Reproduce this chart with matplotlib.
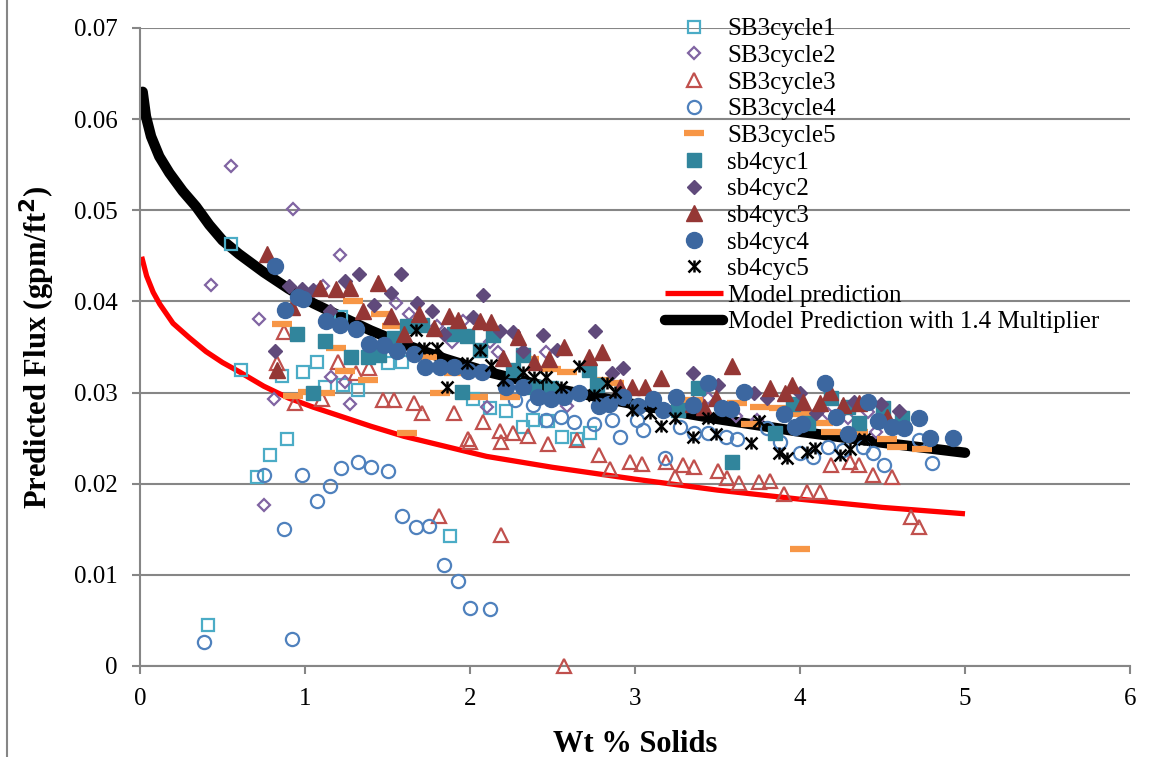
import matplotlib
matplotlib.use('Agg')
import matplotlib.pyplot as plt
from matplotlib.legend_handler import HandlerTuple
from matplotlib.lines import Line2D

plt.rcParams['font.family'] = ['Liberation Serif', 'DejaVu Serif']

# ---- data (wt % solids, predicted flux gpm/ft2) ----
sb3c1_x = [0.41, 0.55, 0.61, 0.71, 0.79, 0.86, 0.89, 0.99, 1.07, 1.12, 1.22, 1.23, 1.32, 1.50, 1.59,
           1.88, 2.02, 2.12, 2.22, 2.32, 2.38, 2.47, 2.56, 2.65, 2.73]
sb3c1_y = [0.0045, 0.0463, 0.0325, 0.0207, 0.0231, 0.0318, 0.0249, 0.0323, 0.0334, 0.0306, 0.0383, 0.0308,
           0.0303, 0.0332, 0.0334, 0.0143, 0.0293, 0.0283, 0.0280, 0.0262, 0.0270, 0.0269, 0.0251, 0.0249, 0.0256]

sb3c2_x = [0.55, 0.43, 0.93, 0.75, 0.72, 1.21, 1.11, 0.81, 1.16, 1.24, 1.27, 1.55, 1.63, 1.80, 1.89, 1.96,
           2.10, 2.12, 2.17, 2.46, 2.59, 3.44, 3.61, 3.74, 4.17, 4.29, 4.41, 4.46]
sb3c2_y = [0.0549, 0.0418, 0.0501, 0.0177, 0.0381, 0.0451, 0.0417, 0.0293, 0.0317, 0.0312, 0.0288, 0.0398,
           0.0386, 0.0373, 0.0356, 0.0379, 0.0284, 0.0355, 0.0344, 0.0344, 0.0285, 0.0294, 0.0274, 0.0270,
           0.0276, 0.0272, 0.0279, 0.0257]

sb3c3_x = [0.87, 0.83, 1.20, 1.39, 1.31, 1.10, 0.94, 1.47, 1.54, 1.66, 1.71, 1.90, 1.99, 2.08, 2.18, 2.26,
           2.35, 2.19, 2.47, 2.65, 2.00, 2.78, 2.85, 2.97, 3.04, 3.19, 3.24, 3.29, 3.36, 3.50, 3.56, 3.63,
           3.75, 3.82, 3.90, 4.04, 4.12, 4.19, 4.30, 4.36, 4.44, 4.56, 4.67, 4.72, 1.81, 2.19, 2.57]
sb3c3_y = [0.0366, 0.0332, 0.0334, 0.0327, 0.0321, 0.0293, 0.0289, 0.0292, 0.0292, 0.0289, 0.0278, 0.0278,
           0.0249, 0.0268, 0.0258, 0.0256, 0.0252, 0.0246, 0.0244, 0.0248, 0.0246, 0.0231, 0.0216, 0.0224,
           0.0222, 0.0224, 0.0207, 0.0220, 0.0218, 0.0214, 0.0206, 0.0201, 0.0202, 0.0203, 0.0189, 0.0191,
           0.0191, 0.0221, 0.0224, 0.0221, 0.0210, 0.0207, 0.0164, 0.0153, 0.0165, 0.0144, 0.0]

sb3c4_x = [0.39, 0.92, 0.75, 0.87, 0.98, 1.07, 1.15, 1.22, 1.32, 1.40, 1.50, 1.59, 1.67, 1.75, 1.84, 1.93,
           2.00, 2.12, 2.27, 2.38, 2.46, 2.55, 2.63, 2.75, 2.86, 2.91, 3.01, 3.05, 3.18, 3.27, 3.36, 3.44,
           3.55, 3.62, 3.80, 3.88, 4.00, 4.08, 4.17, 4.26, 4.38, 4.44, 4.51, 4.72, 4.80]
sb3c4_y = [0.0026, 0.0030, 0.0210, 0.0150, 0.0210, 0.0181, 0.0198, 0.0217, 0.0224, 0.0218, 0.0214, 0.0165,
           0.0153, 0.0154, 0.0111, 0.0093, 0.0064, 0.0063, 0.0292, 0.0286, 0.0270, 0.0273, 0.0268, 0.0265,
           0.0270, 0.0251, 0.0270, 0.0259, 0.0228, 0.0262, 0.0256, 0.0256, 0.0251, 0.0249, 0.0261, 0.0246,
           0.0234, 0.0229, 0.0240, 0.0237, 0.0240, 0.0234, 0.0221, 0.0248, 0.0223]

sb3c5_x = [0.86, 1.29, 1.46, 1.53, 1.19, 1.24, 1.38, 0.93, 1.02, 1.12, 1.62, 1.74, 1.82, 1.90, 2.05, 2.24,
           2.36, 2.49, 2.59, 2.80, 2.87, 3.35, 3.62, 3.76, 3.87, 3.70, 4.01, 4.14, 4.19, 4.35, 4.53, 4.59,
           4.74, 4.00]
sb3c5_y = [0.0375, 0.0401, 0.0386, 0.0373, 0.0349, 0.0324, 0.0314, 0.0296, 0.0301, 0.0300, 0.0256, 0.0339,
           0.0300, 0.0322, 0.0295, 0.0295, 0.0337, 0.0326, 0.0323, 0.0314, 0.0311, 0.0292, 0.0289, 0.0284,
           0.0283, 0.0265, 0.0277, 0.0267, 0.0257, 0.0257, 0.0249, 0.0240, 0.0238, 0.0128]

sb4c1_x = [0.95, 1.12, 1.28, 1.38, 1.45, 1.05, 1.54, 1.62, 1.71, 1.90, 1.98, 1.95, 2.06, 2.14, 2.26, 2.32,
           2.39, 2.49, 2.72, 2.77, 3.26, 3.38, 3.59, 3.85, 3.96, 4.05, 4.19, 4.29, 4.36, 4.50, 4.62]
sb4c1_y = [0.0364, 0.0357, 0.0339, 0.0339, 0.0341, 0.0299, 0.0360, 0.0373, 0.0374, 0.0364, 0.0362, 0.0301,
           0.0347, 0.0363, 0.0325, 0.0341, 0.0306, 0.0305, 0.0325, 0.0308, 0.0281, 0.0305, 0.0224, 0.0256,
           0.0287, 0.0267, 0.0294, 0.0284, 0.0267, 0.0283, 0.0272]

sb4c2_x = [0.82, 0.90, 0.98, 1.05, 1.24, 1.33, 1.58, 1.52, 1.42, 1.15, 1.68, 1.77, 1.84, 2.02, 2.08, 2.18,
           2.26, 2.44, 2.32, 2.53, 2.76, 2.86, 2.93, 3.35, 3.50, 3.72, 3.80, 4.00, 4.16, 4.10, 4.33, 4.49, 4.60]
sb4c2_y = [0.0346, 0.0417, 0.0414, 0.0412, 0.0422, 0.0430, 0.0430, 0.0409, 0.0396, 0.0390, 0.0398, 0.0390,
           0.0364, 0.0383, 0.0407, 0.0368, 0.0366, 0.0363, 0.0346, 0.0347, 0.0368, 0.0322, 0.0327, 0.0321,
           0.0308, 0.0299, 0.0294, 0.0300, 0.0312, 0.0278, 0.0290, 0.0288, 0.0280]

sb4c3_x = [0.77, 0.83, 0.92, 1.09, 1.19, 1.27, 1.44, 1.35, 1.52, 1.69, 1.60, 1.78, 1.87, 1.93, 2.06, 2.13,
           2.29, 2.20, 2.39, 2.48, 2.57, 2.72, 2.80, 2.91, 2.98, 3.06, 3.16, 3.35, 3.42, 3.49, 3.59, 3.82,
           3.91, 3.95, 4.02, 4.12, 4.18, 4.26, 4.36, 4.53]
sb4c3_y = [0.0452, 0.0325, 0.0394, 0.0415, 0.0414, 0.0415, 0.0420, 0.0389, 0.0384, 0.0386, 0.0364, 0.0371,
           0.0384, 0.0380, 0.0379, 0.0377, 0.0361, 0.0338, 0.0333, 0.0337, 0.0350, 0.0339, 0.0344, 0.0306,
           0.0306, 0.0306, 0.0316, 0.0287, 0.0284, 0.0294, 0.0329, 0.0305, 0.0299, 0.0308, 0.0290, 0.0289,
           0.0301, 0.0286, 0.0289, 0.0273]

sb4c4_x = [0.82, 0.88, 0.96, 0.99, 1.13, 1.21, 1.31, 1.39, 1.48, 1.56, 1.66, 1.73, 1.82, 1.90, 1.99, 2.07,
           2.22, 2.32, 2.41, 2.49, 2.57, 2.66, 2.78, 2.84, 2.93, 3.02, 3.11, 3.17, 3.25, 3.35, 3.44, 3.53,
           3.58, 3.66, 3.90, 3.97, 4.01, 4.15, 4.22, 4.29, 4.41, 4.47, 4.56, 4.63, 4.72, 4.79, 4.93]
sb4c4_y = [0.0439, 0.0391, 0.0405, 0.0403, 0.0379, 0.0374, 0.0370, 0.0353, 0.0352, 0.0346, 0.0342, 0.0328,
           0.0328, 0.0328, 0.0324, 0.0323, 0.0306, 0.0306, 0.0295, 0.0293, 0.0295, 0.0300, 0.0285, 0.0288,
           0.0295, 0.0285, 0.0293, 0.0281, 0.0295, 0.0286, 0.0311, 0.0283, 0.0282, 0.0301, 0.0276, 0.0262,
           0.0265, 0.0311, 0.0273, 0.0254, 0.0290, 0.0269, 0.0262, 0.0261, 0.0272, 0.0250, 0.0250]

sb4c5_x = [1.67, 1.72, 1.80, 1.86, 1.98, 2.06, 2.13, 2.20, 2.32, 2.39, 2.46, 2.55, 2.66, 2.75, 2.83, 2.88,
           2.98, 3.09, 3.16, 3.24, 3.35, 3.44, 3.49, 3.70, 3.75, 3.87, 3.92, 4.04, 4.09, 4.24, 4.30, 4.39]
sb4c5_y = [0.0369, 0.0349, 0.0349, 0.0306, 0.0332, 0.0347, 0.0330, 0.0314, 0.0323, 0.0317, 0.0317, 0.0306,
           0.0329, 0.0297, 0.0311, 0.0301, 0.0281, 0.0278, 0.0263, 0.0272, 0.0251, 0.0272, 0.0255, 0.0245,
           0.0269, 0.0234, 0.0228, 0.0235, 0.0239, 0.0231, 0.0238, 0.0249]

# model curves
model_x = [0.010, 0.040, 0.08, 0.12, 0.20, 0.30, 0.40, 0.50, 0.60, 0.75, 0.90, 1.05, 1.20, 1.40, 1.60,
           1.85, 2.10, 2.50, 3.00, 3.50, 4.00, 4.50, 5.00]
model_y = [0.0449, 0.0428, 0.0410, 0.0397, 0.0376, 0.0360, 0.0345, 0.0333, 0.0323, 0.0307, 0.0294, 0.0284,
           0.0275, 0.0263, 0.0252, 0.0241, 0.0230, 0.0218, 0.0205, 0.0193, 0.0183, 0.0174, 0.0167]
model14_x = [0.016, 0.036, 0.067, 0.117, 0.178, 0.259, 0.34, 0.42, 0.50, 0.60, 0.75, 0.90, 1.05, 1.20, 1.40,
             1.60, 1.85, 2.10, 2.50, 3.00, 3.50, 4.00, 4.50, 5.00]
model14_y = [0.0630, 0.0603, 0.0581, 0.0559, 0.0541, 0.0521, 0.0504, 0.0484, 0.0467, 0.0452, 0.0432, 0.0414,
             0.0398, 0.0385, 0.0368, 0.0353, 0.0337, 0.0323, 0.0305, 0.0287, 0.0271, 0.0257, 0.0245, 0.0234]

fig = plt.figure(figsize=(11.52, 7.57), dpi=100)
ax = fig.add_axes([140 / 1152, 91 / 757, 990 / 1152, 638 / 757])

# model curves sit behind the measured points
l_red, = ax.plot(model_x, model_y, color='#ff0000', lw=3.8, solid_capstyle='butt',
                 solid_joinstyle='round', zorder=2)
l_blk, = ax.plot(model14_x, model14_y, color='black', lw=7.5, solid_capstyle='round',
                 solid_joinstyle='round', zorder=2)

kw_open = dict(ls='none', mfc='none', mew=1.6, zorder=3, clip_on=False)
h1, = ax.plot(sb3c1_x, sb3c1_y, marker='s', ms=8.5, mec='#4bacc6', **kw_open)
h2, = ax.plot(sb3c2_x, sb3c2_y, marker='D', ms=6.5, mec='#8064a2', **kw_open)
h3, = ax.plot(sb3c3_x, sb3c3_y, marker='^', ms=10, mec='#c0504d', **kw_open)
h4, = ax.plot(sb3c4_x, sb3c4_y, marker='o', ms=9.5, mec='#4f81bd', **kw_open)
h5, = ax.plot(sb3c5_x, sb3c5_y, ls='none', marker='_', ms=14, mew=4.5, color='#f79646', zorder=3)

h6, = ax.plot(sb4c1_x, sb4c1_y, ls='none', marker='s', ms=9.5, color='#31859c', zorder=3)
h7, = ax.plot(sb4c2_x, sb4c2_y, ls='none', marker='D', ms=7.5, color='#604a7b', zorder=3)
h8, = ax.plot(sb4c3_x, sb4c3_y, ls='none', marker='^', ms=11, color='#953735', zorder=3)
h9, = ax.plot(sb4c4_x, sb4c4_y, ls='none', marker='o', ms=11.5, color='#3c67a0', zorder=3)
h10a, = ax.plot(sb4c5_x, sb4c5_y, ls='none', marker='x', ms=8, mew=1.8, color='black', zorder=4)
h10b, = ax.plot(sb4c5_x, sb4c5_y, ls='none', marker='|', ms=9, mew=1.8, color='black', zorder=4)

ax.set_xlim(0, 6)
ax.set_ylim(0, 0.07)
ax.set_xticks(range(7))
ax.set_yticks([0, 0.01, 0.02, 0.03, 0.04, 0.05, 0.06, 0.07])
ax.set_yticklabels(['0', '0.01', '0.02', '0.03', '0.04', '0.05', '0.06', '0.07'])
ax.tick_params(labelsize=18, length=6, width=1.5, color='#868686', pad=10)
ax.grid(axis='y', color='#868686', lw=1.5)
ax.set_axisbelow(True)
for s in ['top', 'right']:
    ax.spines[s].set_visible(False)
for s in ['left', 'bottom']:
    ax.spines[s].set_color('#868686')
    ax.spines[s].set_linewidth(1.5)

ax.set_xlabel('Wt % Solids', fontsize=22, fontweight='bold', labelpad=14)
ax.set_ylabel('Predicted Flux (gpm/ft$^\\mathbf{2}$)', fontsize=22, fontweight='bold', labelpad=12)

handles = [h1, h2, h3, h4, h5, h6, h7, h8, h9, (h10a, h10b), l_red, l_blk]
labels = ['SB3cycle1', 'SB3cycle2', 'SB3cycle3', 'SB3cycle4', 'SB3cycle5', 'sb4cyc1', 'sb4cyc2',
          'sb4cyc3', 'sb4cyc4', 'sb4cyc5', 'Model prediction', 'Model Prediction with 1.4 Multiplier']
ax.legend(handles, labels, loc='upper left', bbox_to_anchor=(665 / 1152, 1 - 18 / 757),
          bbox_transform=fig.transFigure, frameon=False, fontsize=18, handlelength=2.3,
          handletextpad=0.2, labelspacing=0.165, borderpad=0, borderaxespad=0,
          handler_map={tuple: HandlerTuple(ndivide=1)})

# chart-area border on the left
fig.add_artist(Line2D([7 / 1152, 7 / 1152], [0, 1], transform=fig.transFigure, color='#868686', lw=1.5))

fig.savefig('out.png', dpi=100)
